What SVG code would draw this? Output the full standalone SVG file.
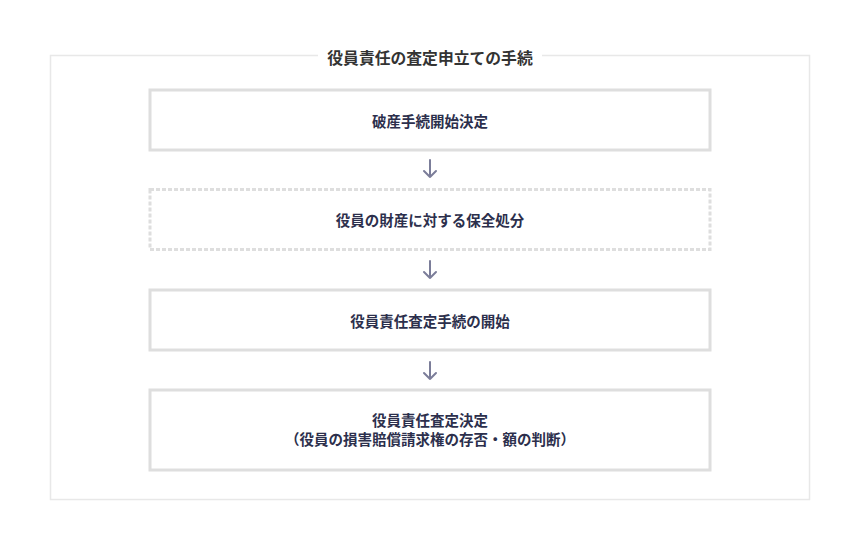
<svg xmlns="http://www.w3.org/2000/svg" width="860" height="550" viewBox="0 0 860 550">
<style>
.frame{fill:none;stroke:#e8e8e8;stroke-width:1.5}
.box{fill:#ffffff;stroke:#dedede;stroke-width:3}
.dashed{stroke-dasharray:4 2}
.t{font-family:"Noto Sans CJK JP","Noto Sans",sans-serif;font-weight:700;font-size:14.5px;fill:#2c2f4c;text-anchor:middle;dominant-baseline:central}
.title{font-family:"Noto Sans CJK JP","Noto Sans",sans-serif;font-weight:700;font-size:15.8px;fill:#333333;text-anchor:middle;dominant-baseline:central}
.arr{fill:none;stroke:#7b7d99;stroke-width:2;stroke-linecap:round;stroke-linejoin:round}
</style>
<rect width="860" height="550" fill="#ffffff"/>
<g id="frame">
<rect class="frame" x="50.5" y="55.5" width="759" height="444"/>
<rect x="318" y="44" width="224" height="24" fill="#ffffff"/>
<text class="title" x="430" y="57">役員責任の査定申立ての手続</text>
</g>
<g id="connectors">
<path class="arr" d="M430 160 V177 M424 171 L430 177 L436 171"/>
<path class="arr" d="M430 261 V278 M424 272 L430 278 L436 272"/>
<path class="arr" d="M430 362 V379 M424 373 L430 379 L436 373"/>
</g>
<g id="node1">
<rect class="box" x="150" y="90" width="560" height="60"/>
<text class="t" x="430" y="120">破産手続開始決定</text>
</g>
<g id="node2">
<rect class="box dashed" x="150" y="189.5" width="560" height="60"/>
<text class="t" x="430" y="219.5">役員の財産に対する保全処分</text>
</g>
<g id="node3">
<rect class="box" x="150" y="290" width="560" height="60"/>
<text class="t" x="430" y="320">役員責任査定手続の開始</text>
</g>
<g id="node4">
<rect class="box" x="150" y="390" width="560" height="80"/>
<text class="t" x="430" y="419.5">役員責任査定決定</text>
<text class="t" x="430" y="438.5">（役員の損害賠償請求権の存否・額の判断）</text>
</g>
</svg>
